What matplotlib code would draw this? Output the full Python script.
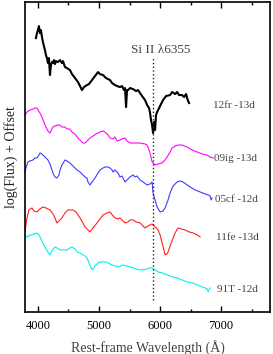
import matplotlib
matplotlib.use('Agg')
import matplotlib.pyplot as plt
from matplotlib.ticker import MultipleLocator

plt.rcParams['font.family'] = ['Liberation Serif', 'DejaVu Serif']

# --- spectra: rest wavelength (A) and log(flux) + offset ---
wave_12fr = [3967, 3984, 4000, 4016, 4033, 4049, 4066, 4082, 4098, 4115, 4131, 4148, 4164, 4180, 4197,
             4213, 4230, 4246, 4262, 4279, 4295, 4328, 4361, 4393, 4410, 4443, 4475, 4525, 4557, 4607,
             4656, 4689, 4721, 4754, 4803, 4836, 4885, 4934, 4984, 5016, 5066, 5115, 5180, 5213, 5262,
             5295, 5344, 5377, 5410, 5426, 5443, 5459, 5475, 5508, 5557, 5607, 5639, 5672, 5705, 5754,
             5787, 5820, 5836, 5852, 5869, 5885, 5902, 5918, 5934, 5951, 5984, 6016, 6049, 6098, 6164,
             6197, 6246, 6279, 6311, 6361, 6393, 6426, 6443, 6459, 6475]
flux_12fr = [27.4, 27.9, 28.2, 28.6, 27.9, 28.2, 27.5, 27.0, 26.6, 26.2, 25.7, 25.4, 24.9, 25.4, 23.7,
             24.7, 25.0, 24.9, 25.2, 24.8, 25.1, 25.0, 25.2, 24.9, 25.1, 24.5, 24.4, 24.2, 23.8, 23.4,
             23.0, 22.6, 22.2, 22.5, 22.7, 22.8, 23.2, 23.6, 24.0, 23.8, 23.7, 23.4, 23.2, 22.9, 22.7,
             22.6, 22.5, 22.6, 22.2, 22.4, 20.5, 22.2, 22.2, 22.4, 22.3, 22.1, 22.2, 21.9, 21.6, 21.2,
             20.7, 20.4, 19.9, 19.2, 18.7, 17.9, 19.0, 18.2, 19.7, 20.0, 20.4, 20.8, 21.2, 21.6, 21.7,
             22.0, 21.8, 22.0, 21.7, 21.7, 21.5, 21.8, 21.4, 21.1, 20.9]

wave_09ig = [3787, 3820, 3869, 3918, 3951, 3984, 4033, 4066, 4115, 4164, 4197, 4230, 4246, 4279, 4328,
             4361, 4393, 4443, 4475, 4525, 4557, 4607, 4656, 4705, 4738, 4770, 4820, 4852, 4902, 4951,
             5016, 5066, 5098, 5148, 5180, 5230, 5262, 5295, 5344, 5377, 5426, 5459, 5508, 5590, 5672,
             5754, 5787, 5820, 5852, 5869, 5918, 5967, 6033, 6082, 6115, 6164, 6197, 6246, 6295, 6361,
             6443, 6525, 6607, 6689, 6770, 6820, 6869]
flux_09ig = [19.7, 20.0, 20.2, 20.3, 20.4, 20.4, 19.9, 19.5, 18.7, 18.1, 17.9, 18.3, 18.5, 18.6, 18.7,
             18.7, 18.5, 18.5, 18.3, 18.3, 18.0, 17.8, 17.4, 17.1, 16.9, 16.9, 17.2, 17.4, 17.6, 17.8,
             18.0, 18.1, 18.0, 17.7, 17.4, 17.3, 17.5, 17.1, 17.2, 17.3, 17.4, 17.1, 16.9, 16.9, 16.9,
             16.8, 16.7, 16.2, 15.5, 15.0, 14.7, 14.8, 14.9, 15.2, 15.5, 16.0, 16.4, 16.6, 16.7, 16.7,
             16.5, 16.2, 16.0, 15.8, 15.7, 15.5, 15.4]

wave_05cf = [3787, 3803, 3836, 3869, 3918, 3951, 3984, 4016, 4033, 4066, 4082, 4115, 4164, 4197, 4246,
             4279, 4311, 4344, 4361, 4393, 4443, 4475, 4525, 4574, 4639, 4689, 4738, 4770, 4803, 4820,
             4852, 4885, 4934, 4984, 5016, 5066, 5098, 5148, 5180, 5213, 5230, 5262, 5311, 5344, 5377,
             5426, 5459, 5508, 5557, 5590, 5623, 5672, 5721, 5787, 5836, 5869, 5885, 5918, 5951, 6000,
             6049, 6082, 6131, 6164, 6213, 6279, 6328, 6377, 6443, 6492, 6574, 6656, 6738, 6787, 6820,
             6836, 6852]
flux_05cf = [13.9, 14.4, 15.0, 15.1, 15.2, 15.4, 15.4, 15.7, 15.9, 15.8, 15.7, 15.5, 15.2, 14.8, 13.9,
             13.5, 13.4, 13.7, 14.2, 14.7, 15.2, 15.1, 14.9, 14.6, 14.2, 14.0, 13.7, 13.5, 13.4, 13.0,
             12.7, 13.0, 13.4, 13.9, 14.2, 14.4, 14.5, 14.5, 14.4, 14.2, 14.0, 14.2, 13.9, 13.5, 13.6,
             13.0, 13.2, 13.5, 13.7, 13.5, 13.6, 13.2, 13.0, 12.7, 12.8, 13.0, 11.9, 11.2, 10.5, 10.0,
             10.1, 10.4, 11.2, 11.9, 12.6, 13.0, 13.1, 13.0, 12.7, 12.5, 12.2, 12.0, 11.8, 11.7, 11.6,
             11.2, 11.4]

wave_11fe = [3787, 3803, 3820, 3852, 3902, 3934, 3984, 4033, 4082, 4131, 4197, 4246, 4279, 4311, 4344,
             4393, 4443, 4492, 4525, 4574, 4623, 4689, 4738, 4770, 4820, 4852, 4902, 4967, 5016, 5066,
             5131, 5180, 5230, 5262, 5311, 5344, 5393, 5426, 5475, 5508, 5557, 5607, 5672, 5721, 5754,
             5803, 5836, 5869, 5918, 5967, 6000, 6033, 6066, 6082, 6115, 6131, 6164, 6213, 6246, 6295,
             6344, 6410, 6475, 6541, 6607, 6656]
flux_11fe = [8.0, 8.7, 9.4, 10.2, 10.4, 10.1, 10.0, 10.3, 10.5, 10.4, 10.2, 9.8, 9.4, 8.9, 9.1,
             9.4, 9.9, 10.2, 10.2, 10.2, 10.0, 9.4, 8.9, 8.5, 8.2, 8.0, 8.4, 8.9, 9.3, 9.7,
             9.9, 10.0, 9.6, 9.4, 9.3, 9.4, 9.1, 8.9, 9.0, 9.2, 9.2, 9.0, 8.9, 8.6, 8.4,
             8.6, 8.7, 8.8, 8.5, 8.2, 7.7, 6.9, 6.1, 5.7, 5.8, 6.0, 6.6, 7.4, 7.9, 8.4,
             8.3, 8.2, 8.0, 7.9, 7.7, 7.5]

wave_91T = [3787, 3820, 3836, 3869, 3902, 3934, 3984, 4016, 4033, 4066, 4115, 4164, 4197, 4230, 4279,
            4311, 4361, 4410, 4475, 4525, 4557, 4607, 4639, 4689, 4738, 4770, 4803, 4836, 4869, 4885,
            4934, 4984, 5033, 5098, 5148, 5213, 5262, 5311, 5361, 5393, 5443, 5508, 5557, 5607, 5672,
            5721, 5787, 5836, 5869, 5918, 5967, 6033, 6115, 6197, 6279, 6361, 6443, 6525, 6607, 6689,
            6738, 6770, 6787, 6803, 6820]
flux_91T = [7.4, 7.6, 7.5, 7.7, 7.7, 7.8, 7.9, 7.7, 7.5, 7.1, 6.5, 6.0, 5.7, 6.1, 6.5,
            6.4, 6.2, 6.2, 6.2, 6.4, 6.5, 6.3, 6.0, 5.9, 5.7, 5.6, 5.4, 4.9, 4.4, 4.2,
            4.6, 4.9, 5.0, 5.0, 4.9, 4.7, 4.6, 4.5, 4.6, 4.7, 4.6, 4.5, 4.4, 4.3, 4.2,
            4.2, 4.3, 4.4, 4.4, 4.2, 4.0, 3.9, 3.7, 3.5, 3.4, 3.2, 3.0, 2.9, 2.7, 2.5,
            2.4, 2.3, 2.0, 2.2, 2.4]

names = ['12fr -13d', '09ig -13d', '05cf -12d', '11fe -13d', '91T -12d']
label_wave = [6869, 6885, 6902, 6918, 6934]
label_flux = [20.7, 15.3, 11.2, 7.4, 2.2]
si_wave = 5885
si_text = 'Si II \u03bb6355'

spectra = [(wave_12fr, flux_12fr, 'black', 1.5),
           (wave_09ig, flux_09ig, '#ff00ff', 0.8),
           (wave_05cf, flux_05cf, '#3c3cff', 0.8),
           (wave_11fe, flux_11fe, '#ff2020', 0.8),
           (wave_91T, flux_91T, '#00f0f0', 0.8)]

fig = plt.figure(figsize=(2.73, 3.54), dpi=100)
ax = fig.add_axes([0.092, 0.119, 0.897, 0.875])

for w, f, c, lw in spectra:
    ax.plot(w, f, color=c, lw=lw)

# Si II marker
ax.plot([si_wave, si_wave], [1.2, 25.5], color='#222222', ls=(0, (1, 1.7)), lw=1.0)
ax.text(6010, 26.2, si_text, ha='center', va='center', fontsize=9.5, color='#444444')

for n, xw, yf in zip(names, label_wave, label_flux):
    ax.text(xw, yf, n, ha='left', va='center', fontsize=8, color='#444444')

ax.set_xlim(3790, 7800)
ax.set_ylim(0, 31)
ax.set_yticks([])
ax.xaxis.set_major_locator(MultipleLocator(1000))
ax.xaxis.set_minor_locator(MultipleLocator(500))
ax.tick_params(axis='x', which='both', direction='in', top=True, labelsize=9, pad=6,
               labelcolor='black')
ax.tick_params(axis='x', which='major', length=4, width=1)
ax.tick_params(axis='x', which='minor', length=2.5, width=1)
for s in ax.spines.values():
    s.set_linewidth(1.2)

ax.set_xlabel('Rest-frame Wavelength (\u00c5)', fontsize=10, color='#444444', labelpad=6)
ax.set_ylabel('log(Flux) + Offset', fontsize=10, color='#222222', labelpad=5)

plt.savefig('out.png', dpi=100)
